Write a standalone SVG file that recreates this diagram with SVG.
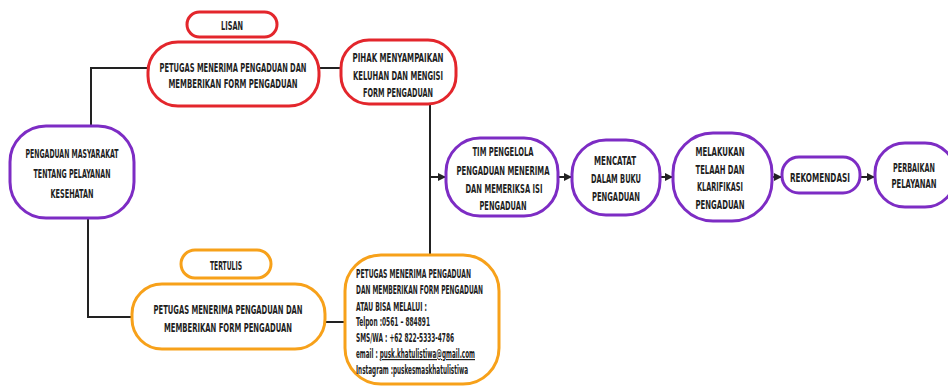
<svg xmlns="http://www.w3.org/2000/svg" width="948" height="387" viewBox="0 0 948 387">
<defs>
<style>
.bx{fill:#fff;stroke-width:3}
.r{stroke:#e3262c}
.p{stroke:#7d2cc4}
.o{stroke:#f7a11a}
.t{font-family:"DejaVu Sans Condensed","DejaVu Sans",sans-serif;font-size:13px;font-weight:bold;fill:#1e1e1e;text-anchor:middle}
.s{font-family:"DejaVu Sans Condensed","DejaVu Sans",sans-serif;font-size:12px;font-weight:bold;fill:#1e1e1e;text-anchor:start}
.c{fill:none;stroke:#222;stroke-width:2}
</style>
<marker id="ah" viewBox="0 0 10 10" refX="10" refY="5" markerWidth="4" markerHeight="4" orient="auto" markerUnits="strokeWidth">
<path d="M0,0 L10,5 L0,10 z" fill="#222"/>
</marker>
</defs>
<rect width="948" height="387" fill="#fff"/>
<g id="connectors">
<path class="c" d="M148,68 H91 V126"/>
<path class="c" d="M88,218 V317 H132"/>
<path class="c" d="M319,68 H341"/>
<path class="c" d="M325,322 H345"/>
<path class="c" d="M430,104 V255"/>
<path class="c" d="M430,177 H446" marker-end="url(#ah)"/>
<path class="c" d="M558,177 H572" marker-end="url(#ah)"/>
<path class="c" d="M660,177 H673" marker-end="url(#ah)"/>
<path class="c" d="M772,177 H782" marker-end="url(#ah)"/>
<path class="c" d="M860,177 H875" marker-end="url(#ah)"/>
</g>
<g id="lisan">
<rect class="bx r" x="187" y="12" width="90" height="25" rx="12.5"/>
<text class="t" x="232" y="29.5" textLength="22" lengthAdjust="spacingAndGlyphs">LISAN</text>
</g>
<g id="petugas-lisan">
<rect class="bx r" x="148" y="42" width="171" height="64" rx="30"/>
<text class="t" x="233" y="71.5" textLength="147" lengthAdjust="spacingAndGlyphs">PETUGAS MENERIMA PENGADUAN DAN</text>
<text class="t" x="233" y="87.5" textLength="129" lengthAdjust="spacingAndGlyphs">MEMBERIKAN FORM PENGADUAN</text>
</g>
<g id="pihak">
<rect class="bx r" x="341" y="40" width="115" height="64" rx="28"/>
<text class="t" x="398" y="61.5" textLength="91" lengthAdjust="spacingAndGlyphs">PIHAK MENYAMPAIKAN</text>
<text class="t" x="398" y="79.5" textLength="90" lengthAdjust="spacingAndGlyphs">KELUHAN DAN MENGISI</text>
<text class="t" x="398" y="96.5" textLength="70" lengthAdjust="spacingAndGlyphs">FORM PENGADUAN</text>
</g>
<g id="pengaduan">
<rect class="bx p" x="10" y="126" width="124" height="92" rx="36"/>
<text class="t" x="72" y="157.5" textLength="93" lengthAdjust="spacingAndGlyphs">PENGADUAN MASYARAKAT</text>
<text class="t" x="72" y="177.5" textLength="77" lengthAdjust="spacingAndGlyphs">TENTANG PELAYANAN</text>
<text class="t" x="72" y="197.5" textLength="43" lengthAdjust="spacingAndGlyphs">KESEHATAN</text>
</g>
<g id="tertulis">
<rect class="bx o" x="181" y="250" width="90" height="28" rx="14"/>
<text class="t" x="226" y="269.5" textLength="32" lengthAdjust="spacingAndGlyphs">TERTULIS</text>
</g>
<g id="petugas-tertulis">
<rect class="bx o" x="132" y="284" width="193" height="65" rx="30"/>
<text class="t" x="228" y="313.5" textLength="149" lengthAdjust="spacingAndGlyphs">PETUGAS MENERIMA PENGADUAN DAN</text>
<text class="t" x="228" y="331.5" textLength="128" lengthAdjust="spacingAndGlyphs">MEMBERIKAN FORM PENGADUAN</text>
</g>
<g id="info">
<rect class="bx o" x="345" y="255" width="154" height="129" rx="36"/>
<text class="s" x="356" y="278" textLength="115" lengthAdjust="spacingAndGlyphs">PETUGAS MENERIMA PENGADUAN</text>
<text class="s" x="356" y="294" textLength="127" lengthAdjust="spacingAndGlyphs">DAN MEMBERIKAN FORM PENGADUAN</text>
<text class="s" x="356" y="311" textLength="71" lengthAdjust="spacingAndGlyphs">ATAU BISA MELALUI :</text>
<text class="s" x="356" y="326" textLength="74" lengthAdjust="spacingAndGlyphs">Telpon :0561 – 884891</text>
<text class="s" x="356" y="342" textLength="98" lengthAdjust="spacingAndGlyphs">SMS/WA : +62 822-5333-4786</text>
<text class="s" x="356" y="358" textLength="119" lengthAdjust="spacingAndGlyphs">email : <tspan text-decoration="underline">pusk.khatulistiwa@gmail.com</tspan></text>
<text class="s" x="356" y="374" textLength="112" lengthAdjust="spacingAndGlyphs">Instagram :puskesmaskhatulistiwa</text>
</g>
<g id="tim">
<rect class="bx p" x="446" y="138" width="112" height="78" rx="34"/>
<text class="t" x="503" y="155.5" textLength="61" lengthAdjust="spacingAndGlyphs">TIM PENGELOLA</text>
<text class="t" x="503" y="174.5" textLength="93" lengthAdjust="spacingAndGlyphs">PENGADUAN MENERIMA</text>
<text class="t" x="504" y="192.5" textLength="77" lengthAdjust="spacingAndGlyphs">DAN MEMERIKSA ISI</text>
<text class="t" x="503" y="209.5" textLength="47" lengthAdjust="spacingAndGlyphs">PENGADUAN</text>
</g>
<g id="mencatat">
<rect class="bx p" x="572" y="140" width="88" height="75" rx="34"/>
<text class="t" x="615" y="164.5" textLength="42" lengthAdjust="spacingAndGlyphs">MENCATAT</text>
<text class="t" x="616" y="182.5" textLength="50" lengthAdjust="spacingAndGlyphs">DALAM BUKU</text>
<text class="t" x="616" y="200.5" textLength="48" lengthAdjust="spacingAndGlyphs">PENGADUAN</text>
</g>
<g id="melakukan">
<rect class="bx p" x="673" y="133" width="99" height="88" rx="40"/>
<text class="t" x="720" y="155.5" textLength="49" lengthAdjust="spacingAndGlyphs">MELAKUKAN</text>
<text class="t" x="720" y="173.5" textLength="49" lengthAdjust="spacingAndGlyphs">TELAAH DAN</text>
<text class="t" x="720" y="190.5" textLength="46" lengthAdjust="spacingAndGlyphs">KLARIFIKASI</text>
<text class="t" x="720" y="208.5" textLength="49" lengthAdjust="spacingAndGlyphs">PENGADUAN</text>
</g>
<g id="rekomendasi">
<rect class="bx p" x="782" y="157" width="78" height="36" rx="17"/>
<text class="t" x="820" y="181.5" textLength="60" lengthAdjust="spacingAndGlyphs">REKOMENDASI</text>
</g>
<g id="perbaikan">
<rect class="bx p" x="875" y="143" width="80" height="64" rx="30"/>
<text class="t" x="914" y="171.5" textLength="42" lengthAdjust="spacingAndGlyphs">PERBAIKAN</text>
<text class="t" x="914" y="187.5" textLength="45" lengthAdjust="spacingAndGlyphs">PELAYANAN</text>
</g>
</svg>
